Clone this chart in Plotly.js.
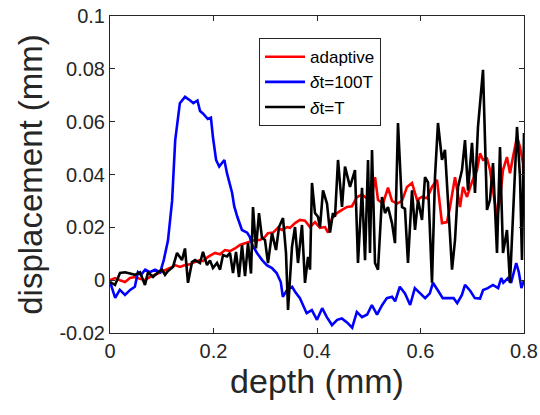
<!DOCTYPE html>
<html>
<head>
<meta charset="utf-8">
<script src="https://cdn.plot.ly/plotly-3.0.1.min.js"></script>
<style>html,body{margin:0;padding:0;background:#fff;}#chart{width:540px;height:415px;}</style>
</head>
<body>
<div id="chart"></div>
<script>
// depth (mm) and displacement (mm)
const adaptiveX = [0,0.0097,0.0193,0.029,0.0386,0.0483,0.058,0.0676,0.0773,0.087,0.0966,0.1063,0.1159,0.1256,0.1353,0.1449,0.1546,0.1643,0.1739,0.1797,0.1894,0.2029,0.2126,0.2222,0.2319,0.2415,0.2512,0.2609,0.2705,0.2802,0.2899,0.2995,0.3053,0.315,0.3246,0.3324,0.342,0.3478,0.3575,0.3671,0.3768,0.3865,0.3961,0.4058,0.4155,0.4213,0.429,0.4386,0.4483,0.458,0.4676,0.4773,0.487,0.4966,0.5063,0.5121,0.5179,0.5275,0.5372,0.5449,0.5546,0.5643,0.5739,0.5836,0.5932,0.6029,0.6126,0.6222,0.6319,0.6415,0.6512,0.657,0.6667,0.6763,0.6821,0.6899,0.6995,0.7092,0.715,0.7208,0.7285,0.7343,0.7401,0.7478,0.7536,0.7594,0.7671,0.7729,0.7787,0.7865,0.7923,0.7981,0.8];
const adaptiveY = [0,0.0008,0,-0.0007,0.0008,0.0012,0.0005,0,0.0012,0.002,0.0027,0.0035,0.0046,0.0057,0.005,0.0057,0.006,0.0069,0.0076,0.0072,0.0088,0.0103,0.0098,0.0114,0.011,0.012,0.0133,0.014,0.0145,0.0152,0.0152,0.0164,0.0178,0.018,0.0198,0.019,0.0201,0.0198,0.0216,0.0228,0.0225,0.0201,0.022,0.0198,0.0201,0.018,0.0235,0.0254,0.0266,0.0277,0.028,0.0315,0.0323,0.031,0.032,0.039,0.0304,0.029,0.035,0.03,0.029,0.03,0.0353,0.0368,0.0304,0.0315,0.031,0.0353,0.038,0.0216,0.022,0.0277,0.039,0.0277,0.0353,0.0315,0.0372,0.0417,0.048,0.0455,0.046,0.0417,0.034,0.024,0.0304,0.0417,0.0466,0.0405,0.0466,0.0542,0.0504,0.0443,0.027];

const dt100X = [0,0.01,0.019,0.029,0.039,0.048,0.054,0.06,0.068,0.077,0.087,0.097,0.104,0.112,0.12,0.126,0.135,0.145,0.155,0.161,0.169,0.174,0.18,0.189,0.195,0.199,0.205,0.211,0.221,0.226,0.236,0.24,0.246,0.255,0.265,0.27,0.275,0.284,0.294,0.303,0.313,0.322,0.33,0.334,0.342,0.352,0.358,0.367,0.38,0.39,0.4,0.41,0.419,0.429,0.439,0.448,0.458,0.468,0.477,0.487,0.497,0.506,0.516,0.526,0.535,0.545,0.551,0.56,0.57,0.58,0.589,0.599,0.609,0.618,0.624,0.634,0.643,0.655,0.664,0.671,0.68,0.686,0.696,0.705,0.715,0.721,0.73,0.74,0.75,0.756,0.76,0.769,0.775,0.785,0.79,0.795,0.8];
const dt100Y = [-0.0006,-0.0067,-0.0037,-0.0056,-0.0037,-0.0025,0.003,0.002,0.004,0.003,0.004,0.003,0.0077,0.015,0.030,0.053,0.067,0.0694,0.068,0.067,0.068,0.064,0.063,0.061,0.0615,0.054,0.0455,0.043,0.0455,0.0405,0.033,0.028,0.024,0.019,0.018,0.0164,0.0133,0.0103,0.0076,0.0057,0.0046,0.0027,-0.0007,-0.0063,-0.0037,-0.0025,-0.0045,-0.0068,-0.0125,-0.0113,-0.015,-0.0106,-0.014,-0.017,-0.015,-0.0145,-0.016,-0.018,-0.012,-0.014,-0.013,-0.0094,-0.013,-0.0094,-0.0068,-0.0063,-0.008,-0.0025,-0.005,-0.0094,-0.003,-0.005,-0.0068,-0.005,-0.001,-0.004,-0.0068,-0.0068,-0.0068,-0.0087,-0.0056,-0.0018,-0.004,-0.0068,-0.007,-0.0037,-0.003,-0.0018,-0.003,0.0008,-0.001,0.0008,-0.001,0.0065,0.003,-0.003,0];

const dtTX = [0,0.0097,0.0193,0.029,0.0386,0.0483,0.058,0.0676,0.0734,0.0831,0.0928,0.1005,0.1063,0.1121,0.1217,0.1295,0.1391,0.1449,0.1507,0.1585,0.1643,0.1739,0.1797,0.1874,0.1932,0.199,0.2068,0.2126,0.2184,0.2261,0.2319,0.2377,0.2435,0.2493,0.2551,0.2609,0.2667,0.2725,0.2763,0.2821,0.2879,0.2937,0.2995,0.3053,0.313,0.3208,0.3266,0.3343,0.3401,0.344,0.3517,0.3575,0.3633,0.371,0.3768,0.3826,0.3865,0.3903,0.3961,0.4019,0.4058,0.4116,0.4193,0.4251,0.4309,0.4348,0.4406,0.4483,0.4541,0.4638,0.4734,0.4792,0.487,0.4928,0.4986,0.5024,0.5063,0.5121,0.5179,0.5256,0.5314,0.5372,0.5449,0.5507,0.5565,0.5643,0.57,0.5758,0.5836,0.5894,0.5952,0.6029,0.6087,0.6145,0.6222,0.628,0.6338,0.6415,0.6473,0.6531,0.6609,0.6667,0.6725,0.6802,0.686,0.6918,0.6995,0.7053,0.7111,0.7208,0.7285,0.7343,0.7401,0.7478,0.7536,0.7594,0.7671,0.7729,0.7787,0.7865,0.7923,0.7961,0.8];
const dtTY = [-0.0007,-0.0018,0.0027,0.003,0.0025,0.002,0.003,-0.0018,0.003,0.0012,0.003,0.004,0.002,0.0035,0.005,0.0103,0.0076,0.012,-0.001,0.0069,0.0076,0.0065,0.0107,0.0057,0.0075,0.0046,0.0065,0.004,0.0095,0.009,0.0103,0.0027,0.0107,0.0012,0.0133,0.0015,0.014,0.0025,0.0277,0.012,0.0254,0.016,0.0152,0.0065,0.0178,0.0114,0.0201,0.0235,0.0103,-0.0113,0.0126,0.0201,0.0065,0.0209,-0.001,0.0088,0.004,0.0368,0.0254,0.024,0.0201,0.034,0.029,0.018,0.0254,0.024,0.0455,0.0277,0.043,0.0353,0.0417,0.0065,0.035,0.0076,0.0455,0.0103,0.0493,0.0065,0.004,0.0315,0.0254,0.0277,0.0216,0.014,0.0595,0.0277,0.027,0.0065,0.034,0.019,0.0304,0.0228,0.039,0.037,-0.001,0.039,0.0595,0.0455,0.0493,0.0277,0.004,0.0152,0.0353,0.0417,0.053,0.034,0.052,0.033,0.058,0.0796,0.0266,0.0304,0.0443,0.0103,0.0504,0.0103,0.019,-0.001,0.0266,0.058,0.039,0.0076,0.0557];

const seriesNames = ['adaptive', '<i>δ</i>t=100T', '<i>δ</i>t=T'];
const xTicks = [0, 0.2, 0.4, 0.6, 0.8];
const xTickText = ['0', '0.2', '0.4', '0.6', '0.8'];
const yTicks = [-0.02, 0, 0.02, 0.04, 0.06, 0.08, 0.1];
const yTickText = ['-0.02', '0', '0.02', '0.04', '0.06', '0.08', '0.1'];

const lw = 2.6;
const traces = [
  {x: adaptiveX, y: adaptiveY, name: seriesNames[0], type: 'scatter', mode: 'lines', line: {color: '#ff0000', width: lw}},
  {x: dt100X, y: dt100Y, name: seriesNames[1], type: 'scatter', mode: 'lines', line: {color: '#0000ff', width: lw}},
  {x: dtTX, y: dtTY, name: seriesNames[2], type: 'scatter', mode: 'lines', line: {color: '#000000', width: lw}}
];

const axisCommon = {
  showgrid: false, zeroline: false, showline: true, mirror: 'ticks',
  linecolor: '#262626', linewidth: 1, ticks: 'inside', ticklen: 5, tickwidth: 1, tickcolor: '#262626',
  tickfont: {family: 'Liberation Sans, Arial, sans-serif', size: 20, color: '#262626'}
};

const layout = {
  width: 540, height: 415,
  margin: {l: 110, r: 16, t: 16, b: 82},
  paper_bgcolor: '#ffffff', plot_bgcolor: '#ffffff',
  showlegend: true,
  legend: {
    x: 0.36, y: 0.93, xanchor: 'left', yanchor: 'top',
    bgcolor: '#ffffff', bordercolor: '#262626', borderwidth: 1,
    font: {family: 'Liberation Sans, Arial, sans-serif', size: 17, color: '#000000'},
    itemwidth: 40
  },
  xaxis: Object.assign({}, axisCommon, {
    range: [0, 0.8], tickvals: xTicks, ticktext: xTickText,
    title: {text: 'depth (mm)', font: {family: 'Liberation Sans, Arial, sans-serif', size: 34, color: '#262626'}, standoff: 6}
  }),
  yaxis: Object.assign({}, axisCommon, {
    range: [-0.02, 0.1], tickvals: yTicks, ticktext: yTickText,
    title: {text: 'displacement (mm)', font: {family: 'Liberation Sans, Arial, sans-serif', size: 33, color: '#262626'}, standoff: 6}
  })
};

Plotly.newPlot('chart', traces, layout, {displayModeBar: false, staticPlot: true});
</script>
</body>
</html>
